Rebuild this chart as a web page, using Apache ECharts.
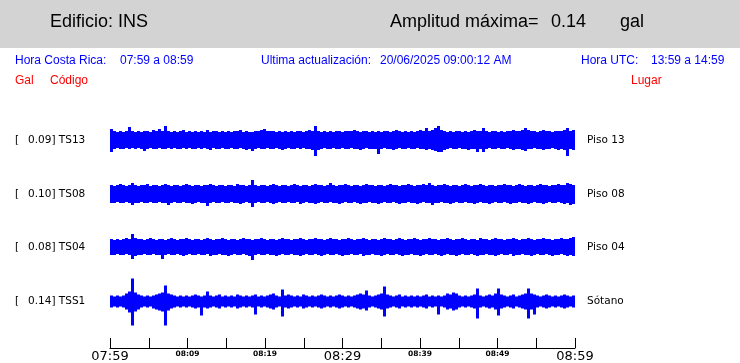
<!DOCTYPE html>
<html><head><meta charset="utf-8">
<script src="https://cdn.jsdelivr.net/npm/echarts@6/dist/echarts.min.js"></script>
<style>html,body{margin:0;padding:0;background:#fff}#c{width:740px;height:363px}</style>
</head><body><div id="c"></div>
<script>
// ---------- data ----------
const building = 'INS';
const maxAmplitude = '0.14';
const amplitudeUnit = 'gal';
const localRange = '07:59 a 08:59';
const utcRange = '13:59 a 14:59';
const lastUpdate = '20/06/2025 09:00:12 AM';
const traceCodes = ['TS13', 'TS08', 'TS04', 'TSS1'];
const tracePeaks = ['0.09', '0.10', '0.08', '0.14'];
const tracePlaces = ['Piso 13', 'Piso 08', 'Piso 04', 'Sótano'];
const tickLabels = ['07:59','08:04','08:09','08:14','08:19','08:24','08:29','08:34','08:39','08:44','08:49','08:54','08:59'];
const axisMinutes = [0, 60];

// envelope (max / min per column) of each trace
const ts13Max = [11,9,8,9,8,9,13,9,8,9, 8,9,9,8,10,9,11,9,14,9, 8,9,8,9,10,8,9,8,9,8, 9,8,10,8,9,9,8,9,8,9,
 8,9,9,10,8,9,8,8,9,9, 10,11,9,9,9,8,9,8,9,8, 9,8,9,9,8,9,10,9,14,9, 8,9,8,9,8,9,9,8,9,9,
 9,10,9,8,9,9,8,9,8,9, 8,9,9,8,9,10,9,8,9,8, 9,8,9,10,9,12,9,10,12,14, 10,9,8,9,8,9,9,8,9,8,
 9,10,9,9,12,9,8,9,9,8, 9,8,9,9,10,9,9,10,12,10, 9,9,8,9,10,9,9,8,9,9, 9,10,12,9,10];
const ts13Min = [-12,-9,-8,-9,-9,-8,-9,-8,-9,-8, -9,-11,-9,-8,-9,-9,-8,-9,-9,-8, -9,-8,-9,-9,-8,-9,-8,-9,-9,-8, -9,-8,-9,-10,-8,-9,-9,-8,-9,-9,
 -8,-9,-9,-8,-9,-10,-9,-11,-9,-8, -9,-9,-8,-9,-9,-8,-9,-10,-9,-8, -9,-9,-8,-9,-8,-9,-9,-10,-16,-10, -9,-8,-9,-9,-8,-9,-9,-8,-9,-9,
 -8,-9,-9,-10,-9,-8,-9,-9,-9,-14, -9,-8,-9,-9,-10,-9,-8,-9,-9,-8, -9,-9,-8,-9,-9,-10,-9,-10,-11,-12, -12,-10,-9,-8,-9,-9,-8,-9,-9,-10,
 -9,-9,-12,-9,-12,-9,-8,-9,-9,-8, -9,-9,-8,-9,-10,-9,-9,-10,-11,-9, -9,-8,-9,-9,-10,-9,-9,-8,-9,-10, -9,-10,-16,-9,-10];
const ts08Max = [9,8,9,10,9,8,9,11,9,8, 9,9,10,8,9,9,8,9,10,9, 8,9,9,8,9,10,9,8,9,9, 8,9,9,10,9,8,9,9,8,9,
 9,8,10,9,9,8,9,14,9,8, 9,9,8,9,10,9,8,9,9,8, 9,10,9,8,9,9,8,9,10,9, 9,8,9,11,9,8,9,9,10,9,
 8,9,9,8,9,10,9,9,8,9, 9,8,9,10,9,9,8,9,9,10, 9,8,9,9,10,9,11,9,8,9, 9,10,9,8,9,9,8,9,10,9,
 8,9,9,10,9,8,9,9,8,9, 9,10,9,9,8,9,10,9,8,9, 9,8,9,10,9,9,8,9,9,10, 9,9,11,10,9];
const ts08Min = [-9,-9,-8,-9,-9,-8,-9,-11,-9,-9, -8,-9,-9,-8,-9,-9,-8,-9,-9,-11, -9,-8,-9,-9,-8,-9,-9,-10,-9,-8, -9,-9,-12,-9,-8,-9,-9,-8,-9,-9,
 -8,-9,-9,-10,-9,-8,-9,-13,-9,-8, -9,-9,-8,-9,-10,-9,-8,-9,-9,-8, -9,-9,-8,-10,-9,-8,-9,-9,-10,-9, -8,-9,-9,-8,-9,-9,-10,-9,-8,-9,
 -9,-8,-9,-10,-9,-9,-8,-9,-9,-10, -9,-8,-9,-9,-8,-9,-10,-9,-9,-8, -9,-9,-10,-9,-8,-9,-9,-11,-9,-9, -8,-9,-9,-10,-9,-8,-9,-9,-8,-9,
 -9,-10,-9,-8,-9,-9,-10,-9,-8,-9, -9,-8,-9,-10,-9,-9,-8,-9,-9,-10, -9,-8,-9,-9,-10,-9,-8,-9,-9,-8, -9,-10,-9,-11,-10];
const ts04Max = [8,7,8,7,8,9,8,13,9,8, 8,7,8,9,8,7,8,8,7,8, 9,8,7,8,8,9,8,7,8,8, 7,8,9,8,7,8,8,9,8,7,
 8,8,7,8,9,8,8,7,8,8, 9,8,7,8,8,7,8,9,8,8, 7,8,8,9,8,7,8,8,9,8, 8,7,8,9,8,8,7,8,8,9,
 8,7,8,8,9,8,7,8,8,7, 8,9,8,8,7,8,9,8,7,8, 8,9,8,7,8,8,9,8,8,7, 8,8,9,8,7,8,8,9,8,7,
 8,8,7,9,8,8,7,8,9,8, 8,7,8,8,9,8,7,8,8,9, 8,7,8,8,9,8,8,7,8,8, 9,8,8,9,10];
const ts04Min = [-8,-8,-7,-8,-8,-7,-8,-12,-9,-8, -8,-7,-8,-8,-7,-8,-8,-12,-8,-7, -8,-8,-7,-8,-9,-8,-7,-8,-8,-7, -8,-8,-7,-9,-8,-8,-7,-8,-8,-9,
 -8,-7,-8,-8,-7,-8,-9,-13,-8,-7, -8,-8,-7,-8,-8,-9,-8,-7,-8,-8, -7,-8,-8,-9,-8,-7,-8,-8,-7,-8, -9,-8,-7,-8,-8,-7,-8,-9,-8,-8,
 -7,-8,-8,-7,-9,-8,-8,-7,-8,-8, -9,-8,-7,-8,-8,-7,-8,-9,-8,-8, -7,-8,-8,-9,-8,-7,-8,-8,-7,-8, -9,-8,-7,-8,-8,-9,-8,-7,-8,-8,
 -7,-8,-9,-8,-8,-7,-8,-8,-9,-8, -7,-8,-8,-7,-9,-8,-8,-7,-8,-8, -9,-8,-7,-8,-8,-7,-8,-9,-8,-8, -7,-8,-9,-8,-9];
const tss1Max = [6,5,6,5,6,8,10,23,9,7, 6,5,6,5,6,7,8,9,16,8, 7,6,5,6,5,6,5,6,7,6, 5,6,10,6,5,6,7,5,6,5,
 6,5,7,6,5,6,5,6,7,5, 6,5,6,7,8,6,5,12,6,7, 6,5,6,5,7,6,5,6,5,6, 7,6,5,6,5,6,7,6,5,6,
 5,6,7,8,7,11,6,5,6,7, 8,15,7,6,5,6,7,5,6,5, 6,5,6,5,6,7,5,6,5,6, 5,6,8,7,9,8,6,5,6,5,
 6,7,13,6,5,6,7,6,8,13, 7,6,5,6,7,5,6,7,8,13, 8,7,6,5,6,7,6,5,6,5, 6,7,6,5,6];
const tss1Min = [-6,-5,-6,-5,-6,-8,-11,-24,-10,-8, -6,-5,-6,-5,-7,-8,-9,-10,-24,-9, -7,-6,-5,-6,-5,-6,-5,-6,-7,-6, -14,-6,-7,-6,-5,-6,-7,-5,-6,-5,
 -6,-5,-7,-6,-5,-6,-5,-6,-13,-5, -6,-5,-6,-7,-8,-6,-5,-15,-6,-7, -6,-5,-6,-5,-7,-6,-5,-6,-5,-6, -7,-6,-5,-6,-5,-6,-7,-6,-5,-6,
 -5,-6,-7,-8,-7,-9,-6,-5,-6,-7, -8,-15,-7,-6,-5,-6,-7,-5,-6,-5, -6,-5,-6,-5,-6,-7,-5,-6,-5,-13, -5,-6,-8,-7,-9,-8,-6,-5,-6,-5,
 -6,-7,-17,-6,-5,-6,-7,-6,-8,-14, -7,-6,-5,-6,-7,-5,-6,-7,-8,-17, -8,-13,-6,-5,-6,-7,-6,-5,-6,-5, -6,-7,-6,-5,-6];

const traceMax = [ts13Max, ts08Max, ts04Max, tss1Max];
const traceMin = [ts13Min, ts08Min, ts04Min, tss1Min];

// ---------- layout ----------
const PLOT_LEFT = 110, PLOT_WIDTH = 465;
const centers = [140, 194, 247, 301.5];
const HALF = 30;
const BLUE = '#0000ff', RED = '#ff0000';
const SANS = '"Liberation Sans", Arial, sans-serif';
const DJ = '"DejaVu Sans", sans-serif';

const grids = [], xAxes = [], yAxes = [], series = [];
centers.forEach((c, k) => {
  grids.push({left: PLOT_LEFT, width: PLOT_WIDTH, top: c - HALF, height: HALF * 2});
  xAxes.push({type: 'category', gridIndex: k, show: false, boundaryGap: true,
    data: traceMax[k].map((_, i) => i)});
  yAxes.push({type: 'value', gridIndex: k, show: false, min: -HALF, max: HALF});
  series.push({
    type: 'custom', xAxisIndex: k, yAxisIndex: k, silent: true,
    data: traceMax[k].map((v, i) => [i, v, traceMin[k][i]]),
    encode: {x: 0, y: [1, 2]},
    renderItem: (params, api) => {
      const i = api.value(0);
      const p1 = api.coord([i, api.value(1)]);
      const p2 = api.coord([i, api.value(2)]);
      const w = api.size([1, 0])[0];
      return {type: 'rect', shape: {x: p1[0] - w / 2, y: p1[1], width: w, height: p2[1] - p1[1]},
        style: {fill: BLUE}};
    }
  });
});
// time axis grid
grids.push({left: PLOT_LEFT, width: PLOT_WIDTH, top: 339, height: 10});
xAxes.push({type: 'value', gridIndex: 4, min: axisMinutes[0], max: axisMinutes[1], interval: 5,
  axisLine: {show: true, onZero: false, lineStyle: {color: '#000', width: 1}},
  axisTick: {show: true, inside: true, length: 10, lineStyle: {color: '#000', width: 1}},
  splitLine: {show: false},
  axisLabel: {show: true, margin: 2, color: '#000',
    formatter: v => {
      const i = Math.round(v / 5);
      if (i % 2) return '';
      return i % 6 === 0 ? '{big|' + tickLabels[i] + '}' : '{small|' + tickLabels[i] + '}';
    },
    rich: {
      big: {fontFamily: DJ, fontSize: 13, color: '#000', lineHeight: 14, verticalAlign: 'top'},
      small: {fontFamily: DJ, fontSize: 7.5, fontWeight: 'bold', color: '#000', lineHeight: 10, verticalAlign: 'top'}
    }}
});
yAxes.push({type: 'value', gridIndex: 4, show: false, min: 0, max: 1});

// ---------- texts ----------
function txt(x, y, s, font, color, extra) {
  return Object.assign({type: 'text', x: x, y: y, silent: true,
    style: Object.assign({text: s, font: font, fill: color, verticalAlign: 'middle', textAlign: 'left'}, extra || {})});
}
const graphic = [
  {type: 'rect', shape: {x: 0, y: 0, width: 740, height: 48}, style: {fill: '#d3d3d3'}, z: -1},
  txt(50, 22, 'Edificio: ' + building, '18px ' + SANS, '#000'),
  txt(390, 22, 'Amplitud máxima=', '18px ' + SANS, '#000'),
  txt(551, 22, maxAmplitude, '18px ' + SANS, '#000'),
  txt(620, 22, amplitudeUnit, '18px ' + SANS, '#000'),
  txt(15, 61, 'Hora Costa Rica:', '12px ' + SANS, BLUE),
  txt(120, 61, localRange, '12px ' + SANS, BLUE),
  txt(261, 61, 'Ultima actualización:', '12px ' + SANS, BLUE),
  txt(380, 61, lastUpdate, '12px ' + SANS, BLUE),
  txt(581, 61, 'Hora UTC:', '12px ' + SANS, BLUE),
  txt(651, 61, utcRange, '12px ' + SANS, BLUE),
  txt(15, 81, 'Gal', '12px ' + SANS, RED),
  txt(50, 81, 'Código', '12px ' + SANS, RED),
  txt(631, 81, 'Lugar', '12px ' + SANS, RED)
];
centers.forEach((c, k) => {
  graphic.push(txt(15, c, '[', '10.5px ' + DJ, '#000'));
  graphic.push(txt(28, c, tracePeaks[k] + '] ' + traceCodes[k], '10.5px ' + DJ, '#000'));
  graphic.push(txt(587, c, tracePlaces[k], '10.5px ' + DJ, '#000'));
});

const chart = echarts.init(document.getElementById('c'), null, {renderer: 'canvas'});
chart.setOption({
  animation: false,
  backgroundColor: '#fff',
  grid: grids, xAxis: xAxes, yAxis: yAxes, series: series, graphic: graphic
});
</script></body></html>
